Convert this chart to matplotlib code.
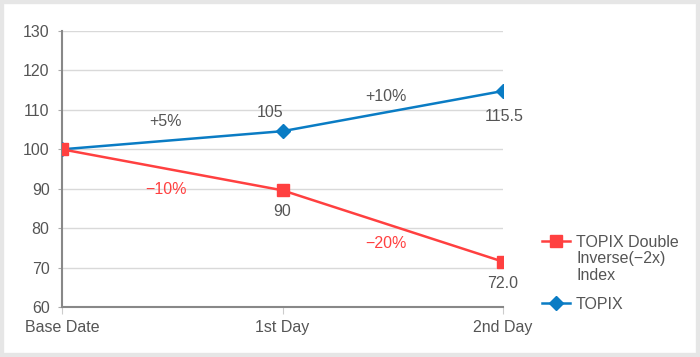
import matplotlib.pyplot as plt
from matplotlib.patches import Rectangle

days = ["Base Date", "1st Day", "2nd Day"]
inverse_vals = [100, 89.6, 71.5]
topix_vals = [100, 104.6, 114.8]
inverse_labels = ["", "90", "72.0"]
topix_labels = ["", "105", "115.5"]
yticks = [60, 70, 80, 90, 100, 110, 120, 130]

red = "#ff4040"
blue = "#0a7cc4"
txt = "#555555"
fs = 11.5

plt.rcParams['font.family'] = ['Liberation Sans', 'DejaVu Sans']

fig = plt.figure(figsize=(7, 3.57), dpi=100)
ax = fig.add_axes([0.0886, 0.140, 0.630, 0.773])

x = list(range(len(days)))
ax.plot(x, inverse_vals, color=red, lw=1.8, marker="s", ms=8,
        label="TOPIX Double", zorder=4)
ax.plot(x, topix_vals, color=blue, lw=1.8, marker="D", ms=7,
        label="TOPIX", zorder=3)

# point labels
for i in (1, 2):
    ax.annotate(inverse_labels[i], (x[i], inverse_vals[i]), xytext=(0, -21),
                textcoords="offset points", ha="center", va="bottom",
                color=txt, fontsize=fs)
ax.annotate(topix_labels[1], (x[1], topix_vals[1]), xytext=(-9, 8),
            textcoords="offset points", ha="center", va="bottom",
            color=txt, fontsize=fs)
ax.annotate(topix_labels[2], (x[2], topix_vals[2]), xytext=(1, -24),
            textcoords="offset points", ha="center", va="bottom",
            color=txt, fontsize=fs)

# change labels
ax.text(0.47, 107.0, "+5%", color=txt, fontsize=fs, ha="center", va="center")
ax.text(1.47, 113.3, "+10%", color=txt, fontsize=fs, ha="center", va="center")
ax.text(0.47, 89.8, "−10%", color=red, fontsize=fs, ha="center", va="center")
ax.text(1.47, 76.0, "−20%", color=red, fontsize=fs, ha="center", va="center")

ax.set_xlim(0, 2)
ax.set_ylim(60, 130)
ax.set_yticks(yticks)
ax.set_xticks(x)
ax.set_xticklabels(days)
ax.grid(axis="y", color="#d9d9d9", lw=1)
ax.set_axisbelow(True)
for s in ("top", "right"):
    ax.spines[s].set_visible(False)
ax.spines["left"].set_color("#888888")
ax.spines["bottom"].set_color("#888888")
ax.spines["left"].set_linewidth(1.5)
ax.spines["bottom"].set_linewidth(1.5)
ax.tick_params(axis="y", colors=txt, labelsize=fs, length=3, color="#aaaaaa", pad=6)
ax.tick_params(axis="x", colors=txt, labelsize=fs, length=5, color="#cccccc", pad=4)

leg = ax.legend(loc="upper left", bbox_to_anchor=(1.075, 0.284), frameon=False,
                fontsize=fs, labelcolor=txt, handlelength=1.75, handletextpad=0.35,
                labelspacing=2.94, borderaxespad=0)
fig.canvas.draw()
# remaining lines of the first legend label
bb = leg.get_texts()[0].get_window_extent()
fig.text(bb.x0 / fig.bbox.width, bb.y0 / fig.bbox.height - 0.003,
         "Inverse(−2x)\nIndex", ha="left", va="top", color=txt, fontsize=fs,
         linespacing=1.15)

fig.patches.append(Rectangle((0, 0), 1, 1, transform=fig.transFigure,
                             fill=False, edgecolor="#e6e6e6", lw=6, zorder=10))

fig.savefig("out.png", dpi=100)
